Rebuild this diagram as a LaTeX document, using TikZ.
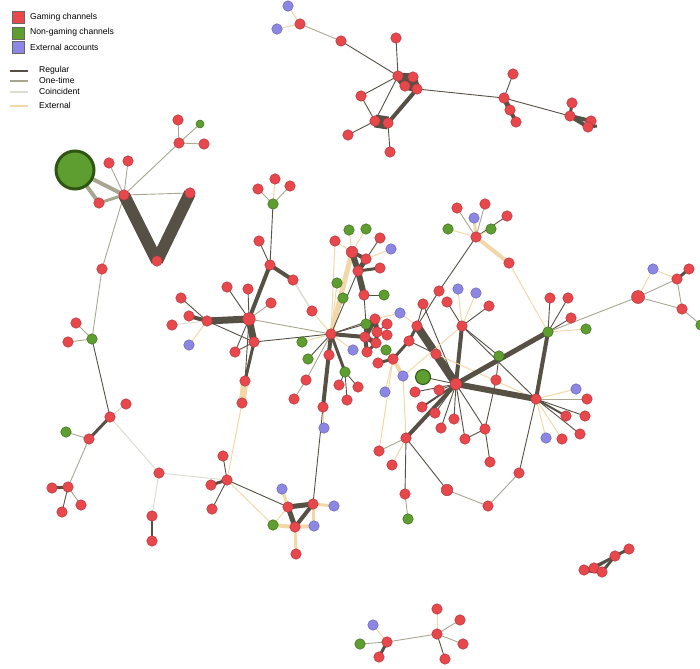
\documentclass[tikz,border=0pt]{standalone}
\usepackage{fontspec}
\setmainfont{Liberation Sans}
\usetikzlibrary{backgrounds}
\definecolor{gred}{HTML}{E8474C}
\definecolor{gredd}{HTML}{B03A3D}
\definecolor{ggreen}{HTML}{5E9E30}
\definecolor{ggreend}{HTML}{3F6E1E}
\definecolor{gbigd}{HTML}{2E5512}
\definecolor{gblue}{HTML}{8C87E2}
\definecolor{gblued}{HTML}{6A66B8}
\definecolor{creg}{HTML}{575045}
\definecolor{cone}{HTML}{A8A690}
\definecolor{ccoi}{HTML}{DEDDD2}
\definecolor{cext}{HTML}{F2D8A8}
\newcommand\edg[3]{\draw[#1] (#2.center) -- (#3.center);}
\tikzset{
  nd/.style={circle, inner sep=0pt, minimum size=10.5pt, line width=0.5pt},
  rn/.style={nd, fill=gred, draw=gredd},
  gn/.style={nd, fill=ggreen, draw=ggreend},
  bn/.style={nd, fill=gblue, draw=gblued},
  reg/.style={draw=creg, line width=0.9pt},
  one/.style={draw=cone, line width=0.9pt},
  coi/.style={draw=ccoi, line width=1pt},
  ext/.style={draw=cext, line width=1pt},
  legsq/.style={draw=black!60, line width=0.4pt, minimum size=12pt, inner sep=0pt},
  legtxt/.style={anchor=west, font=\fontsize{8.6}{10}\selectfont, inner sep=0pt},
}
\begin{document}
\begin{tikzpicture}[x=1pt,y=-1pt]
\useasboundingbox (0,0) rectangle (700,668);
% legend
\node[legsq, fill=gred] (lga) at (18,17) {};
\node[legsq, fill=ggreen] (lgb) at (18,33) {};
\node[legsq, fill=gblue] (lgc) at (18,47) {};
\node[legtxt] (lta) at (30,17) {Gaming channels};
\node[legtxt] (ltb) at (30,32) {Non-gaming channels};
\node[legtxt] (ltc) at (30,47) {External accounts};
\coordinate (la1) at (10,71); \coordinate (la2) at (28,71);
\coordinate (lb1) at (10,81); \coordinate (lb2) at (28,81);
\coordinate (lc1) at (10,92); \coordinate (lc2) at (28,92);
\coordinate (ld1) at (10,106); \coordinate (ld2) at (28,106);
\draw[reg, line width=2.2pt] (la1) -- (la2);
\draw[one, line width=2pt] (lb1) -- (lb2);
\draw[coi, line width=2.5pt] (lc1) -- (lc2);
\draw[ext, line width=2.5pt] (ld1) -- (ld2);
\node[legtxt] (ltd) at (39,70) {Regular};
\node[legtxt] (lte) at (39,80) {One-time};
\node[legtxt] (ltf) at (39,91) {Coincident};
\node[legtxt] (ltg) at (39,105) {External};

% ---- top cluster
\node[bn] (b1) at (288,6) {};
\node[bn] (b2) at (277,29) {};
\node[rn] (t1) at (300,24) {};
\node[rn] (t2) at (341,41) {};
\node[rn] (t3) at (396,38) {};
\node[rn] (t4) at (398,76) {};
\node[rn] (t5) at (413,77) {};
\node[rn] (t6) at (405,86) {};
\node[rn] (t7) at (417,89) {};
\node[rn] (t8) at (361,96) {};
\node[rn] (t9) at (375,121) {};
\node[rn] (t10) at (388,123) {};
\node[rn] (t11) at (348,135) {};
\node[rn] (t12) at (390,152) {};
\node[rn] (t13) at (513,74) {};
\node[rn] (t14) at (504,98) {};
\node[rn] (t15) at (510,110) {};
\node[rn] (t16) at (516,122) {};
\node[rn] (t17) at (572,103) {};
\node[rn] (t18) at (570,116) {};
\node[rn] (t19) at (591,121) {};
\node[rn] (t20) at (588,127) {};
\coordinate (t21) at (597,126);

% ---- left cluster
\node[nd, fill=ggreen, draw=gbigd, line width=3pt, minimum size=38pt] (G) at (75,170) {};
\node[rn] (l1) at (109,163) {};
\node[rn] (l2) at (128,161) {};
\node[rn] (l3) at (124,195) {};
\node[rn] (l4) at (99,203) {};
\node[rn] (l5) at (190,193) {};
\node[rn] (l6) at (157,261) {};
\node[rn] (l7) at (178,120) {};
\node[gn, minimum size=8pt] (lg1) at (200,124) {};
\node[rn] (l8) at (179,143) {};
\node[rn] (l9) at (204,144) {};
\node[rn] (l10) at (102,269) {};

% ---- left chain
\node[rn] (c1) at (76,323) {};
\node[rn] (c2) at (68,342) {};
\node[gn] (cg1) at (92,339) {};
\node[rn] (c3) at (110,417) {};
\node[rn] (c4) at (126,404) {};
\node[rn] (c5) at (89,439) {};
\node[gn] (cg2) at (66,432) {};
\node[rn] (c6) at (68,487) {};
\node[rn] (c7) at (52,488) {};
\node[rn] (c8) at (62,512) {};
\node[rn] (c9) at (81,505) {};
\node[rn] (c10) at (159,473) {};
\node[rn] (c11) at (152,516) {};
\node[rn] (c12) at (152,541) {};

% ---- bottom middle
\node[rn] (s1) at (227,480) {};
\node[rn] (s2) at (223,456) {};
\node[rn] (s3) at (211,485) {};
\node[rn] (s4) at (212,509) {};
\node[bn] (s5) at (282,489) {};
\node[rn] (s6) at (288,507) {};
\node[rn] (s7) at (313,504) {};
\node[bn] (s8) at (334,506) {};
\node[gn] (s9) at (273,525) {};
\node[rn] (s10) at (295,527) {};
\node[bn] (s11) at (314,526) {};
\node[rn] (s12) at (296,554) {};
\node[bn] (s14) at (324,428) {};

% ---- middle
\node[rn] (m2) at (275,179) {};
\node[rn] (m3) at (258,189) {};
\node[rn] (m4) at (290,186) {};
\node[gn] (m5) at (273,204) {};
\node[rn] (m6) at (259,241) {};
\node[rn] (m7) at (270,265) {};
\node[rn] (m8) at (293,280) {};
\node[rn] (m9) at (227,287) {};
\node[rn] (m10) at (248,289) {};
\node[rn] (m11) at (271,303) {};
\node[rn, minimum size=12.5pt] (m12) at (249,319) {};
\node[rn] (m13) at (181,298) {};
\node[rn] (m14) at (189,316) {};
\node[rn] (m15) at (207,321) {};
\node[rn] (m16) at (172,325) {};
\node[bn] (m17) at (189,345) {};
\node[rn] (m18) at (254,342) {};
\node[rn] (m19) at (235,352) {};
\node[rn] (m20) at (245,381) {};
\node[rn] (m21) at (242,403) {};
\node[rn] (m22) at (312,311) {};
\node[rn] (C) at (331,334) {};
\node[gn] (m23) at (302,342) {};
\node[gn] (m24) at (308,359) {};
\node[rn] (m25) at (329,355) {};
\node[rn] (m26) at (306,380) {};
\node[rn] (m27) at (294,399) {};
\node[rn] (m28) at (323,407) {};
\node[gn] (m29) at (345,372) {};
\node[rn] (m30) at (339,385) {};
\node[rn] (m31) at (358,387) {};
\node[rn] (m32) at (347,400) {};
\node[bn] (m33) at (353,350) {};
\node[gn] (m34) at (337,283) {};
\node[gn] (m35) at (343,298) {};
\node[rn] (m36) at (335,241) {};
\node[gn] (m37) at (349,230) {};
\node[gn] (m38) at (366,229) {};
\node[rn] (m39) at (380,238) {};
\node[bn] (m40) at (391,249) {};
\node[rn, minimum size=11.5pt] (m41) at (352,252) {};
\node[rn] (m42) at (366,259) {};
\node[rn] (m43) at (380,268) {};
\node[rn] (m44) at (358,271) {};
\node[rn] (m45) at (364,295) {};
\node[gn] (m46) at (384,295) {};
\node[rn] (m47) at (375,319) {};
\node[gn] (m48) at (366,324) {};
\node[rn] (m49) at (387,324) {};
\node[rn] (m50) at (365,337) {};
\node[rn] (m51) at (377,332) {};
\node[rn] (m52) at (387,335) {};
\node[rn] (m53) at (376,343) {};
\node[rn] (m54) at (367,352) {};
\node[bn] (m55) at (400,313) {};

% ---- right centre
\node[rn] (R3) at (417,326) {};
\node[rn] (n1) at (423,304) {};
\node[rn] (n2) at (439,291) {};
\node[rn] (n3) at (447,302) {};
\node[bn] (nb1) at (458,289) {};
\node[bn] (nb2) at (476,293) {};
\node[rn] (n4) at (489,306) {};
\node[rn] (R2) at (462,326) {};
\node[rn] (n5) at (409,341) {};
\node[rn] (n6) at (393,359) {};
\node[gn] (ng1) at (386,350) {};
\node[rn] (n7) at (378,363) {};
\node[bn] (nb3) at (403,376) {};
\node[bn] (nb4) at (385,392) {};
\node[nd, fill=ggreen, draw=gbigd, line width=1pt, minimum size=15pt] (GG) at (423,377) {};
\node[rn] (n8) at (436,354) {};
\node[rn, minimum size=11.5pt] (H) at (456,384) {};
\node[gn] (ng2) at (499,356) {};
\node[rn] (n9) at (496,380) {};
\node[rn] (n10) at (415,392) {};
\node[rn] (n11) at (439,390) {};
\node[rn] (n12) at (422,407) {};
\node[rn] (n13) at (435,413) {};
\node[rn] (n14) at (454,419) {};
\node[rn] (n15) at (441,428) {};
\node[rn] (n16) at (465,439) {};
\node[rn] (n17) at (485,429) {};
\node[rn] (n18) at (490,462) {};
\node[rn] (P) at (406,438) {};
\node[rn] (n19) at (379,451) {};
\node[rn] (n20) at (392,465) {};
\node[rn] (n21) at (405,494) {};
\node[gn] (ng3) at (408,519) {};
\node[rn, minimum size=11.5pt] (n22) at (447,490) {};
\node[rn] (n23) at (488,506) {};
\node[rn] (n24) at (519,473) {};
\node[rn] (J) at (536,399) {};
\node[gn] (K) at (548,332) {};
\node[rn] (n25) at (550,298) {};
\node[rn] (n26) at (568,298) {};
\node[rn] (n27) at (571,318) {};
\node[gn] (ng4) at (586,329) {};
\node[rn, minimum size=13pt] (BR) at (638,297) {};
\node[bn] (nb5) at (653,269) {};
\node[rn] (n28) at (677,279) {};
\node[rn] (n29) at (689,269) {};
\node[rn] (n30) at (682,309) {};
\node[gn] (ng5) at (701,325) {};
\node[bn] (nb6) at (576,389) {};
\node[rn] (n31) at (587,399) {};
\node[rn] (n32) at (566,416) {};
\node[rn] (n33) at (585,416) {};
\node[rn] (n34) at (580,434) {};
\node[rn] (n35) at (562,439) {};
\node[bn] (nb7) at (546,438) {};
\node[rn] (R1) at (476,237) {};
\node[rn] (n36) at (457,208) {};
\node[rn] (n37) at (485,204) {};
\node[bn] (nb8) at (474,218) {};
\node[rn] (n38) at (507,216) {};
\node[gn] (ng6) at (448,229) {};
\node[gn] (ng7) at (491,229) {};
\node[rn] (n39) at (509,263) {};

% ---- bottom right
\node[rn] (q1) at (629,549) {};
\node[rn] (q2) at (615,556) {};
\node[rn] (q3) at (584,570) {};
\node[rn] (q4) at (594,568) {};
\node[rn] (q5) at (602,572) {};

% ---- bottom
\node[bn] (u1) at (373,625) {};
\node[gn] (u2) at (360,644) {};
\node[rn] (u3) at (387,642) {};
\node[rn] (u4) at (379,657) {};
\node[rn] (u5) at (437,609) {};
\node[rn] (u6) at (437,634) {};
\node[rn] (u7) at (460,620) {};
\node[rn] (u8) at (463,644) {};
\node[rn] (u9) at (445,659) {};

\begin{pgfonlayer}{background}
% top
\edg{ext}{t1}{b1} \edg{ext}{t1}{b2} \edg{one}{t1}{t2}
\edg{reg}{t2}{t4} \edg{reg}{t3}{t4} \edg{reg}{t4}{t8} \edg{reg}{t4}{t9}
\edg{reg}{t8}{t9} \edg{reg}{t9}{t11} \edg{reg}{t10}{t12}
\edg{reg, line width=7pt}{t4}{t5} \edg{reg, line width=7pt}{t4}{t6}
\edg{reg, line width=7pt}{t5}{t7} \edg{reg, line width=7pt}{t6}{t7}
\edg{reg, line width=6pt}{t4}{t7}
\edg{reg, line width=13pt}{t9}{t10}
\edg{reg, line width=4pt}{t10}{t7}
\edg{reg}{t7}{t14} \edg{reg}{t13}{t14}
\edg{reg, line width=5pt}{t14}{t15} \edg{reg, line width=4pt}{t15}{t16}
\edg{reg}{t14}{t18} \edg{reg, line width=3pt}{t17}{t18}
\edg{reg, line width=4pt}{t18}{t19} \edg{reg, line width=4pt}{t18}{t20}
\draw[reg, line width=3pt] (t20.center) -- (t21);
% left
\edg{one, line width=4pt}{G}{l3} \edg{one, line width=4pt}{G}{l4}
\edg{one, line width=3pt}{l4}{l3}
\edg{one}{l1}{l3} \edg{one}{l2}{l3} \edg{one}{l3}{l8}
\edg{one}{l8}{l7} \edg{one}{l8}{lg1} \edg{one}{l8}{l9}
\edg{one}{l3}{l5} \edg{one}{l3}{l10}
\edg{reg, line width=12pt}{l3}{l6} \edg{reg, line width=12pt}{l6}{l5}
% left chain
\edg{one}{l10}{cg1} \edg{one}{cg1}{c1} \edg{one}{cg1}{c2}
\edg{reg}{cg1}{c3} \edg{coi}{c3}{c4} \edg{reg, line width=3pt}{c3}{c5}
\edg{one}{c5}{cg2} \edg{one}{c5}{c6} \edg{reg, line width=3pt}{c6}{c7}
\edg{reg}{c6}{c8} \edg{one}{c6}{c9} \edg{coi}{c3}{c10}
\edg{coi}{c10}{c11} \edg{reg, line width=1.5pt}{c11}{c12} \edg{coi}{c10}{s1}
% bottom middle
\edg{ext}{m21}{s1} \edg{reg}{s1}{s2} \edg{reg, line width=3pt}{s1}{s3}
\edg{reg}{s1}{s4} \edg{reg}{s1}{s6} \edg{ext}{s1}{s9}
\edg{ext, line width=3pt}{s5}{s6} \edg{ext, line width=3pt}{s7}{s8}
\edg{ext, line width=3pt}{s7}{s11} \edg{ext, line width=4pt}{s10}{s11}
\edg{ext, line width=4pt}{s9}{s10} \edg{ext}{s9}{s6}
\edg{ext, line width=3pt}{s10}{s12}
\edg{reg, line width=5pt}{s6}{s7} \edg{reg, line width=5pt}{s6}{s10}
\edg{reg, line width=4pt}{s7}{s10}
\edg{reg}{m28}{s7} \edg{ext}{m28}{s14}
% middle
\edg{ext}{m5}{m2} \edg{one}{m5}{m3} \edg{one}{m5}{m4}
\edg{reg}{m7}{m5} \edg{reg}{m7}{m6} \edg{reg, line width=4pt}{m12}{m7}
\edg{reg, line width=4pt}{m7}{m8} \edg{coi, line width=1.5pt}{m8}{m22}
\edg{ext}{m22}{C}
\edg{reg}{m12}{m9} \edg{reg}{m12}{m10} \edg{one}{m12}{m11}
\edg{reg, line width=7pt}{m15}{m12} \edg{reg}{m15}{m13}
\edg{reg, line width=4pt}{m15}{m14} \edg{coi}{m15}{m16}
\edg{ext}{m15}{m17} \edg{reg}{m15}{m18}
\edg{reg, line width=7pt}{m12}{m18} \edg{reg}{m18}{m19} \edg{reg}{m12}{m19}
\edg{reg}{m12}{m20} \edg{reg, line width=3pt}{m18}{m20}
\edg{ext, line width=7pt}{m20}{m21}
\edg{one}{m12}{C} \edg{reg}{m18}{C}
\edg{ext}{C}{m23} \edg{reg}{C}{m24} \edg{reg}{C}{m25}
\edg{one}{C}{m26} \edg{one}{m26}{m27}
\edg{reg, line width=4pt}{C}{m28} \edg{reg, line width=3pt}{C}{m29}
\edg{reg}{m29}{m30} \edg{reg}{m29}{m31} \edg{reg}{m29}{m32}
\edg{ext}{C}{m33} \edg{ext}{C}{m34} \edg{reg}{C}{m35}
\edg{ext, line width=5pt}{C}{m41} \edg{ext}{C}{m36} \edg{reg}{C}{m44}
\edg{reg}{C}{m48} \edg{reg, line width=4pt}{C}{m50} \edg{reg}{C}{m47}
\edg{ext}{m36}{m41} \edg{ext}{m37}{m41} \edg{ext}{m38}{m41}
\edg{reg}{m39}{m42} \edg{ext}{m40}{m42}
\edg{reg, line width=4pt}{m41}{m42} \edg{reg, line width=6pt}{m41}{m44}
\edg{reg, line width=5pt}{m42}{m44} \edg{reg, line width=3pt}{m44}{m43}
\edg{reg, line width=6pt}{m44}{m45} \edg{reg}{m45}{m46} \edg{reg}{m45}{m48}
\edg{reg, line width=5pt}{m47}{m50} \edg{reg, line width=3pt}{m48}{m50}
\edg{reg, line width=5pt}{m47}{m51} \edg{reg, line width=5pt}{m50}{m53}
\edg{reg, line width=4pt}{m51}{m53} \edg{reg, line width=4pt}{m50}{m54}
\edg{reg}{m51}{m49} \edg{reg}{m51}{m52} \edg{reg, line width=3pt}{m53}{m54}
\edg{reg, line width=3pt}{m47}{m48} \edg{ext}{m55}{m47}
% right centre
\edg{one}{R1}{n36} \edg{one}{R1}{n37} \edg{ext, line width=3pt}{R1}{nb8}
\edg{reg}{R1}{n38} \edg{ext}{R1}{ng6} \edg{ext}{R1}{ng7}
\edg{ext, line width=4pt}{R1}{n39} \edg{ext}{n39}{K}
\edg{reg}{R1}{n2} \edg{reg}{n2}{R3} \edg{reg}{R3}{n1} \edg{ext}{R3}{m55}
\edg{reg, line width=3pt}{R3}{n5} \edg{reg, line width=3pt}{n5}{n6}
\edg{reg, line width=3pt}{n6}{n7} \edg{ext}{n6}{ng1}
\edg{ext, line width=4pt}{n6}{nb3} \edg{ext}{n6}{nb4}
\edg{reg, line width=8pt}{R3}{H} \edg{reg}{n5}{n8} \edg{reg}{n1}{H}
\edg{reg}{R2}{n3} \edg{ext}{R2}{nb1} \edg{ext}{R2}{nb2} \edg{reg}{R2}{n4}
\edg{reg, line width=4pt}{R2}{H} \edg{reg}{R2}{ng2} \edg{reg}{R2}{J}
\edg{ext}{R2}{nb3} \edg{ext}{n8}{J}
\edg{reg, line width=5pt}{H}{K} \edg{reg}{ng2}{n9}
\edg{reg, line width=6pt}{H}{J} \edg{reg, line width=4pt}{K}{J}
\edg{reg}{K}{n25} \edg{reg}{K}{n26} \edg{reg}{K}{n27} \edg{ext}{K}{ng4}
\edg{one}{K}{BR} \edg{ext}{BR}{nb5} \edg{one}{BR}{n28}
\edg{reg, line width=3pt}{n28}{n29} \edg{one}{n28}{n30} \edg{one}{BR}{n30}
\edg{ext}{nb5}{n28} \edg{one}{n30}{ng5}
\edg{ext}{J}{nb6} \edg{one}{J}{n31} \edg{reg, line width=2pt}{J}{n32}
\edg{reg}{J}{n33} \edg{reg}{J}{n34} \edg{ext}{J}{n35} \edg{ext}{J}{nb7}
\edg{reg}{J}{n24}
\edg{reg}{H}{n10} \edg{reg, line width=2pt}{H}{n12} \edg{reg}{H}{n13}
\edg{reg}{H}{n14} \edg{reg}{H}{n15} \edg{reg}{H}{n16} \edg{reg}{H}{n17}
\edg{reg}{n17}{n16} \edg{reg}{n17}{n18} \edg{reg}{n17}{n9}
\edg{reg, line width=4pt}{H}{P} \edg{reg}{H}{n11} \edg{reg}{H}{GG}
\edg{one}{P}{n19} \edg{ext}{P}{n20} \edg{reg}{P}{n21} \edg{one}{n21}{ng3}
\edg{reg}{P}{n22} \edg{one}{n22}{n23} \edg{one}{n23}{n24}
\edg{ext}{P}{nb3} \edg{ext}{n6}{n19}
% bottom right
\edg{reg, line width=3pt}{q1}{q2} \edg{reg, line width=3pt}{q2}{q4}
\edg{reg, line width=3pt}{q2}{q5} \edg{reg, line width=4pt}{q3}{q4}
\edg{reg, line width=4pt}{q4}{q5} \edg{reg, line width=4pt}{q3}{q5}
\edg{reg}{q2}{q3}
% bottom
\edg{ext}{u3}{u1} \edg{one}{u3}{u2} \edg{reg, line width=3pt}{u3}{u4}
\edg{one}{u3}{u6} \edg{ext}{u6}{u5} \edg{one}{u6}{u7} \edg{one}{u6}{u8}
\edg{reg}{u6}{u9}
\end{pgfonlayer}
\end{tikzpicture}
\end{document}
